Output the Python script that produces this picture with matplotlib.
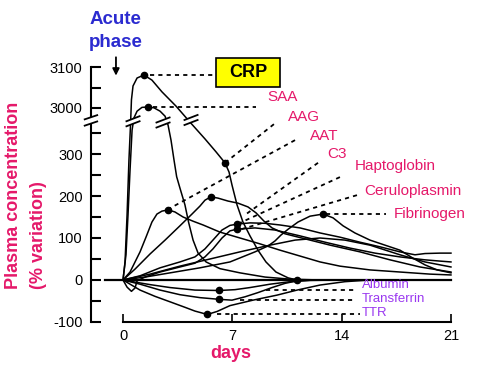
import numpy as np
import matplotlib.pyplot as plt
from matplotlib.patches import Rectangle, Polygon

plt.rcParams['font.family'] = ['Liberation Sans', 'DejaVu Sans']

# x = days, y = % variation (above the axis break the y values are in
# compressed axis units: 410 -> 3000, 458 -> 3050, 506 -> 3100)
crp_x = [0, 0.13, 0.26, 0.38, 0.48, 0.54, 0.64, 0.90, 1.34, 1.85, 2.49, 3.39, 4.28, 5.24, 5.95,
         6.52, 6.78, 6.97, 7.29, 7.67, 8.12, 8.63, 9.14, 9.78, 10.56, 11.13]
crp_y = [0, 43, 155, 286, 369, 429, 462, 481, 488, 476, 448, 414, 376, 336, 305,
         279, 257, 226, 179, 138, 105, 71, 43, 19, 5, 0]

saa_x = [0, 0.19, 0.32, 0.45, 0.58, 0.70, 0.90, 1.21, 1.60, 1.98, 2.37, 2.69, 2.88, 3.07, 3.26,
         3.43, 3.64, 3.96, 4.19, 4.48, 4.80, 5.31, 6.20, 7.48, 9.08, 10.68, 12.60]
saa_y = [0, 60, 155, 262, 357, 386, 402, 411, 412, 410, 402, 390, 369, 333, 286,
         246, 219, 179, 138, 95, 64, 43, 27, 17, 7, 2, 0]

aag_x = [0, 0.45, 1.09, 1.47, 1.85, 2.17, 2.49, 2.88, 3.32, 3.84, 4.48, 5.12, 6.20, 7.48, 8.76,
         10.04, 11.32, 12.60, 13.87, 15.79, 17.71, 19.63, 20.97]
aag_y = [0, 19, 67, 102, 138, 157, 164, 167, 162, 150, 140, 131, 114, 100, 86,
         71, 57, 43, 33, 24, 19, 14, 12]

aat_x = [0, 1.73, 3.64, 5.56, 7.48, 9.40, 11.00, 12.60, 14.19, 15.79, 17.71, 19.31, 20.97]
aat_y = [0, 14, 33, 50, 67, 83, 95, 100, 95, 83, 60, 43, 31]

c3_x = [0, 1.09, 2.37, 3.64, 4.60, 5.24, 5.75, 6.33, 6.84, 7.29, 8.12, 9.08, 10.04, 11.32, 12.60,
        13.87, 15.15, 16.43, 17.71, 18.67, 19.31, 20.27, 20.97]
c3_y = [0, 10, 29, 43, 55, 74, 95, 119, 130, 133, 136, 135, 131, 124, 112,
        102, 90, 79, 67, 60, 63, 64, 64]

hapto_x = [0, 0.77, 1.73, 2.69, 3.64, 4.41, 4.92, 5.24, 5.61, 6.07, 6.71, 7.35, 7.99, 8.50, 9.02,
           9.53, 10.36, 11.64, 13.24, 15.15, 17.07, 18.99, 20.97]
hapto_y = [0, 26, 62, 95, 129, 157, 176, 190, 198, 195, 188, 183, 174, 160, 140,
           124, 110, 98, 83, 67, 48, 31, 19]

cerulo_x = [0, 0.26, 0.54, 0.77, 0.90, 1.41, 2.37, 3.64, 4.60, 5.24, 5.75, 6.33, 6.84, 7.29, 8.44,
            9.72, 11.32, 12.92, 14.51, 16.11, 17.71, 19.31, 20.27, 20.97]
cerulo_y = [0, -17, -27, -19, -2, 7, 19, 31, 40, 55, 74, 100, 117, 121, 124,
            119, 105, 90, 76, 64, 55, 48, 45, 43]

fib_x = [0, 1.41, 3.01, 4.92, 6.84, 8.44, 9.27, 9.72, 10.10, 10.56, 11.19, 11.96, 12.79, 13.43,
         14.07, 14.83, 15.79, 16.75, 17.71, 18.54, 19.31, 20.08, 20.97]
fib_y = [0, 7, 17, 29, 43, 67, 81, 93, 107, 121, 138, 152, 157, 148,
         129, 112, 95, 83, 71, 52, 36, 24, 17]

alb_x = [0, 0.77, 1.73, 3.01, 4.60, 6.14, 7.16, 8.12, 9.40, 10.68, 11.96, 13.87]
alb_y = [0, -5, -11, -18, -24, -25, -23, -18, -10, -4, -1, 0]

trf_x = [0, 1.09, 2.37, 3.64, 4.92, 6.14, 6.97, 7.80, 8.63, 9.53, 10.36, 11.13, 12.28, 13.87]
trf_y = [0, -10, -24, -35, -42, -46, -48, -40, -30, -18, -8, -2, 0, 0]

ttr_x = [0, 1.09, 2.05, 3.01, 3.96, 4.60, 5.39, 6.01, 6.84, 8.31, 9.85, 11.13, 12.60, 14.19, 15.79]
ttr_y = [0, -24, -39, -52, -65, -74, -82, -75, -61, -48, -36, -24, -12, -4, 0]

dots_x = [1.34, 1.60, 6.52, 2.88, 5.61, 7.29, 7.29, 12.79, 6.14, 6.14, 5.39, 11.13]
dots_y = [488, 412, 279, 167, 198, 133, 121, 157, -25, -46, -82, 0]

# label, text position, leader line (x0, y0, x1, y1), colour
pink = '#e5196a'
purple = '#9a38f0'
labels = [
    ('SAA', 9.21, 436, (1.92, 412, 8.50, 412), pink),
    ('AAG', 10.55, 389, (9.65, 371, 6.52, 279), pink),
    ('AAT', 11.96, 344, (11.00, 333, 3.01, 171), pink),
    ('C3', 13.04, 300, (12.47, 279, 7.80, 155), pink),
    ('Haptoglobin', 14.83, 272, (13.87, 245, 7.48, 136), pink),
    ('Ceruloplasmin', 15.41, 213, (14.96, 202, 7.48, 120), pink),
    ('Fibrinogen', 17.33, 157, (12.98, 157, 16.82, 157), pink),
    ('Albumin', 15.28, -12, (9.14, -25, 14.90, -25), purple),
    ('Transferrin', 15.28, -45, (7.48, -48, 14.83, -48), purple),
    ('TTR', 15.28, -78, (6.01, -82, 15.15, -82), purple),
]

ytick_pos = [-100, -50, 0, 50, 100, 150, 200, 250, 300, 350, 410, 458, 506]
ytick_lab = ['-100', '', '0', '', '100', '', '200', '', '300', '', '3000', '', '3100']
xtick_pos = [0, 7, 14, 21]

fig = plt.figure(figsize=(4.91, 3.65), dpi=100)
ax = fig.add_axes([0, 0, 1, 1])
ax.set_xlim(-7.865, 23.53)
ax.set_ylim(-202.4, 666.7)

ax.spines['top'].set_visible(False)
ax.spines['right'].set_visible(False)
ax.spines['left'].set_position(('data', -2.05))
ax.spines['left'].set_bounds(-100, 506)
ax.spines['bottom'].set_position(('data', -100))
ax.spines['bottom'].set_bounds(0, 21)
for s in ['left', 'bottom']:
    ax.spines[s].set_linewidth(1.5)

ax.set_yticks(ytick_pos)
ax.set_yticklabels(ytick_lab)
ax.set_xticks(xtick_pos)
ax.set_xticklabels([str(t) for t in xtick_pos])
ax.tick_params(axis='y', direction='in', length=7, width=1.5, pad=6, labelsize=10.5)
ax.tick_params(axis='x', direction='in', length=6, width=1.2, pad=5, labelsize=10.5)

# zero line
ax.plot([-1.15, 21], [0, 0], color='black', lw=1.6, zorder=2)

for cx, cy in [(crp_x, crp_y), (saa_x, saa_y), (aag_x, aag_y), (aat_x, aat_y), (c3_x, c3_y),
               (hapto_x, hapto_y), (cerulo_x, cerulo_y), (fib_x, fib_y),
               (alb_x, alb_y), (trf_x, trf_y), (ttr_x, ttr_y)]:
    ax.plot(cx, cy, color='black', lw=1.1, zorder=2, solid_joinstyle='round')

ax.plot(dots_x, dots_y, 'o', color='black', ms=4.5, zorder=5)

# leaders
ax.plot([1.73, 5.95], [488, 488], color='black', lw=1.3, ls=(0, (2.3, 2.3)), zorder=3)
for txt, tx, ty, (x0, y0, x1, y1), col in labels:
    ax.plot([x0, x1], [y0, y1], color='black', lw=1.3, ls=(0, (2.3, 2.3)), zorder=3)
    fs = 11 if col == pink else 9.5
    ax.text(tx, ty, txt, color=col, fontsize=fs, ha='left', va='center')


def axis_break(cx, cy, half_w, gap, rise):
    lo = [(cx - half_w, cy - gap / 2 - rise / 2), (cx + half_w, cy - gap / 2 + rise / 2)]
    hi = [(cx - half_w, cy + gap / 2 - rise / 2), (cx + half_w, cy + gap / 2 + rise / 2)]
    ax.add_patch(Polygon([lo[0], lo[1], hi[1], hi[0]], closed=True, facecolor='white',
                         edgecolor='none', zorder=3.5))
    for seg in (lo, hi):
        ax.plot([seg[0][0], seg[1][0]], [seg[0][1], seg[1][1]], color='black', lw=1.3, zorder=4)


axis_break(-2.05, 380, 0.4, 15, 10)
axis_break(0.64, 378, 0.42, 12, 12)
axis_break(2.56, 375, 0.42, 12, 12)
axis_break(4.35, 381, 0.42, 12, 12)

# CRP box
ax.add_patch(Rectangle((5.95, 459.5), 4.09, 69, facecolor='#ffff00', edgecolor='black',
                       lw=1.2, zorder=4))
ax.text(7.99, 494, 'CRP', fontsize=13, fontweight='bold', ha='center', va='center', zorder=5)

# acute phase
ax.text(-0.45, 620, 'Acute', color='#2b2bd0', fontsize=13.5, fontweight='bold', ha='center', va='center')
ax.text(-0.45, 566, 'phase', color='#2b2bd0', fontsize=13.5, fontweight='bold', ha='center', va='center')
ax.annotate('', xy=(-0.45, 480), xytext=(-0.45, 537),
            arrowprops=dict(arrowstyle='-|>', color='black', lw=1.3, mutation_scale=10))

ax.text(-7.03, 202, 'Plasma concentration', color=pink, fontsize=13, fontweight='bold',
        rotation=90, ha='center', va='center')
ax.text(-5.43, 107, '(% variation)', color=pink, fontsize=13, fontweight='bold',
        rotation=90, ha='center', va='center')
ax.text(6.9, -174, 'days', color=pink, fontsize=13, fontweight='bold', ha='center', va='center')

fig.savefig('out.png', dpi=100)
